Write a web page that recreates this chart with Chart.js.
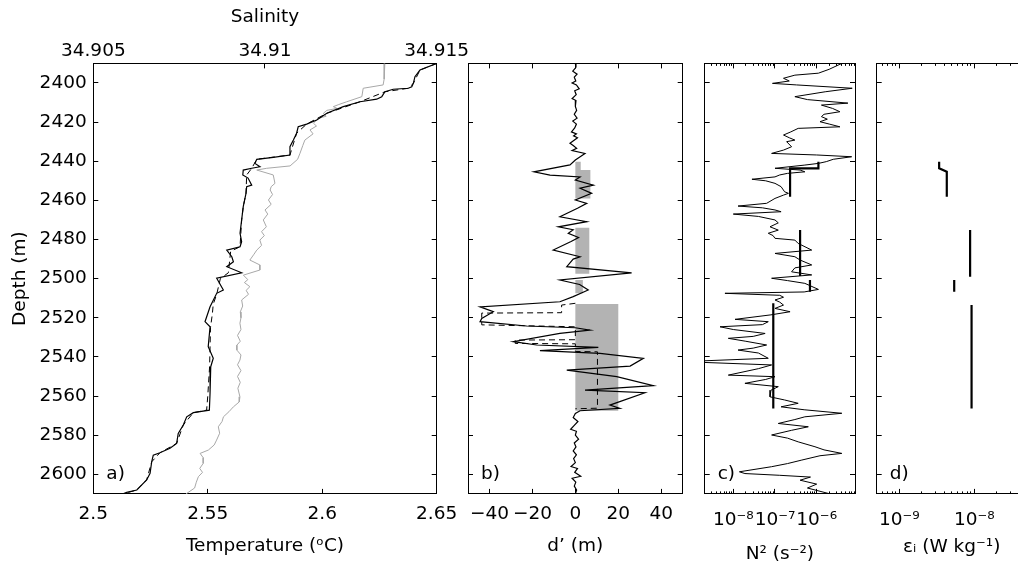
<!DOCTYPE html>
<html lang="en">
<head>
<meta charset="UTF-8">
<title>Profiles</title>
<script src="https://cdn.jsdelivr.net/npm/chart.js"></script>
<style>
  html, body { margin: 0; padding: 0; background: #fff; overflow: hidden; }
  #wrap { position: relative; width: 1018px; height: 567px; overflow: hidden; background: #fff; }
  #wrap canvas { position: absolute; top: 0; }
</style>
</head>
<body>
<div id="wrap">
  <canvas id="panelA" width="480" height="567" style="left:0px"></canvas>
  <canvas id="panelB" width="230" height="567" style="left:460px"></canvas>
  <canvas id="panelC" width="180" height="567" style="left:690px"></canvas>
  <canvas id="panelD" width="170" height="567" style="left:870px"></canvas>
</div>
<script>
// ---- tick values and labels
const depthTicks = [2400, 2420, 2440, 2460, 2480, 2500, 2520, 2540, 2560, 2580, 2600];
const tempTicks = [2.5, 2.55, 2.6, 2.65];
const tempLabels = ['2.5', '2.55', '2.6', '2.65'];
const salTicks = [34.905, 34.91, 34.915];
const salLabels = ['34.905', '34.91', '34.915'];
const dispTicks = [-40, -20, 0, 20, 40];
const dispLabels = ['\u221240', '\u221220', '0', '20', '40'];
const n2Ticks = [1e-8, 1e-7, 1e-6];
const n2Labels = ['10\u207B\u2078', '10\u207B\u2077', '10\u207B\u2076'];
const epsTicks = [1e-9, 1e-8];
const epsLabels = ['10\u207B\u2079', '10\u207B\u2078'];

// ---- a) temperature (solid), sorted temperature (dashed), salinity (grey)
const tempDepth = [2390, 2393.4, 2396.8, 2400.2, 2401.9, 2402.7, 2403.2, 2404.5, 2407.0, 2408.3,
  2409.6, 2412.1, 2415.5, 2418.9, 2421.0, 2422.4, 2425.7, 2429.2, 2432.6, 2436.8,
  2438.0, 2439.0, 2441.1, 2442.8, 2443.6, 2444.5, 2447.0, 2448.6, 2452.2, 2453.0,
  2456.4, 2463.2, 2470.0, 2476.8, 2481.1, 2483.7, 2485.4, 2488.8, 2491.4, 2493.9,
  2497.0, 2499.8, 2505.8, 2507.5, 2514.4, 2522.0, 2524.6, 2534.8, 2540.7, 2545.0,
  2558.6, 2567.2, 2568.5, 2570.6, 2574.8, 2579.1, 2584.2, 2586.7, 2589.0, 2590.2,
  2593.6, 2599.5, 2602.9, 2608.0, 2609.2, 2610];
const tempValues = [2.6500, 2.6427, 2.6405, 2.6398, 2.6391, 2.6376, 2.6310, 2.6274, 2.6260, 2.6238,
  2.6165, 2.6092, 2.6020, 2.5976, 2.5932, 2.5895, 2.5888, 2.5874, 2.5859, 2.5859,
  2.5786, 2.5714, 2.5706, 2.5728, 2.5692, 2.5655, 2.5653, 2.5676, 2.5692, 2.5670,
  2.5667, 2.5655, 2.5648, 2.5641, 2.5648, 2.5641, 2.5583, 2.5605, 2.5612, 2.5583,
  2.5648, 2.5539, 2.5568, 2.5539, 2.5510, 2.5488, 2.5510, 2.5502, 2.5524, 2.5513,
  2.5510, 2.5507, 2.5437, 2.5408, 2.5393, 2.5371, 2.5364, 2.5335, 2.5291, 2.5262,
  2.5255, 2.5248, 2.5233, 2.5190, 2.5146, 2.5130];

const sortDepth = [2390, 2393.4, 2400.2, 2402.7, 2404.5, 2409.6, 2415.5, 2421, 2425.7, 2436.8,
  2439, 2443.6, 2447, 2456.4, 2463.2, 2470, 2483.7, 2486, 2497, 2500,
  2508, 2513, 2518, 2525, 2545, 2560, 2567.2, 2568.5, 2574.8, 2584.2,
  2589, 2593.6, 2602.9, 2608, 2610];
const sortValues = [2.6500, 2.6427, 2.6398, 2.6376, 2.6274, 2.6165, 2.6020, 2.5932, 2.5888, 2.5859,
  2.5714, 2.5692, 2.5670, 2.5667, 2.5655, 2.5648, 2.5641, 2.5600, 2.5590, 2.5555,
  2.5539, 2.5524, 2.5520, 2.5512, 2.5508, 2.5500, 2.5495, 2.5437, 2.5393, 2.5364,
  2.5291, 2.5255, 2.5233, 2.5190, 2.5130];

const salDepth = [2390, 2398, 2401, 2402.7, 2407, 2409.6, 2411, 2412.1, 2413, 2414,
  2415.5, 2417, 2418.1, 2420.6, 2422, 2424, 2426, 2429.2, 2432, 2435.9,
  2439, 2442.4, 2443.6, 2444.5, 2447, 2451.3, 2453, 2454.7, 2457, 2459.8,
  2462, 2464.9, 2467, 2470, 2473.5, 2476, 2478, 2480.3, 2483, 2485.4,
  2487.5, 2490.5, 2493, 2495.6, 2498.2, 2500.5, 2502, 2504.1, 2506, 2508,
  2510.9, 2514, 2517, 2520, 2522.8, 2526, 2529, 2532, 2534, 2536.5,
  2539, 2541.6, 2544, 2547, 2550, 2553, 2556, 2560.4, 2563, 2565.5,
  2568, 2570.6, 2573, 2575.7, 2579, 2582.5, 2585, 2587.6, 2589.3, 2591.5,
  2594.4, 2597, 2599, 2601.2, 2604, 2607, 2610];
const salValues = [34.91349, 34.91347, 34.91344, 34.91286, 34.91282, 34.91238, 34.91215, 34.91199, 34.91210, 34.91180,
  34.91170, 34.91178, 34.91155, 34.91141, 34.91150, 34.91131, 34.91140, 34.91116, 34.91110, 34.91102,
  34.91095, 34.91073, 34.91005, 34.90976, 34.91024, 34.91029, 34.91018, 34.91015, 34.91022, 34.91010,
  34.91018, 34.91000, 34.91008, 34.90995, 34.91004, 34.90990, 34.90998, 34.90985, 34.90990, 34.90976,
  34.90968, 34.90956, 34.90985, 34.90985, 34.90937, 34.90950, 34.90940, 34.90956, 34.90945, 34.90952,
  34.90932, 34.90935, 34.90928, 34.90930, 34.90927, 34.90930, 34.90920, 34.90928, 34.90918, 34.90918,
  34.90930, 34.90927, 34.90920, 34.90930, 34.90920, 34.90928, 34.90921, 34.90927, 34.90925, 34.90908,
  34.90895, 34.90879, 34.90875, 34.90864, 34.90868, 34.90859, 34.90852, 34.90835, 34.90811, 34.90820,
  34.90820, 34.90810, 34.90818, 34.90806, 34.90800, 34.90795, 34.90770];

// ---- b) Thorpe displacement
const dispDepth = [2390, 2392, 2394, 2395.5, 2397, 2399, 2400, 2401, 2403, 2404,
  2406, 2408, 2409, 2412, 2414, 2416, 2418, 2419.5, 2421, 2423,
  2425, 2426, 2427, 2428, 2430.8, 2432, 2433.4, 2434.5, 2436, 2439.4,
  2441.9, 2445.4, 2447.1, 2448, 2449.6, 2452.2, 2453.8, 2456.4, 2459.8, 2461.5,
  2464, 2468.4, 2470.9, 2473.5, 2475, 2476.8, 2479, 2481, 2485.4, 2488.8,
  2490, 2493.9, 2497, 2500.7, 2503, 2505.8, 2509.2, 2511.8, 2514.4, 2516.9,
  2520.3, 2522, 2524.2, 2525.1, 2526.3, 2528, 2532.2, 2533.9, 2535.1, 2536.8,
  2538.2, 2540.7, 2544.7, 2546.7, 2550.1, 2554.7, 2557, 2558.3, 2564.6, 2566.3,
  2567.5, 2568.9, 2571, 2573, 2575, 2577, 2578, 2580, 2582, 2584,
  2586, 2588, 2590, 2592, 2594, 2596, 2597, 2599, 2601, 2602,
  2604, 2606, 2608, 2610];
const dispValues = [0, 0.3, -1.2, 0.8, -0.5, 0.2, -1.5, 0.5, 1.8, -0.3,
  0.4, -1.5, 0.3, 0, 0.6, -0.5, 0.8, -1.2, 0.5, -0.3,
  -1.8, 0.5, -0.8, 1.0, -2.5, -1.0, 0.6, -1.5, 4.5, 0,
  -2.5, -19.3, -11.8, 2.2, 0, 8.4, 2.2, 7.6, 0, 5.3,
  1, -7.2, 5.3, -7.9, -1, -3.3, 1.5, -2, -10.3, 2.2,
  -1, -4, 26.2, -7.2, 2, 6, -1, -7.2, -44.4, -38.2,
  -43.6, -44.4, -22.7, 0, 6.8, -7.2, -28.9, -18, 10.7, -16.5,
  11.5, 31.7, 25.5, -4, 19.3, 36.3, 4.5, 32.4, 16.1, 20.7,
  2.2, 0, -1, 1.2, -0.5, -2.2, 0.5, 0, 1.5, -0.5,
  0.3, -1, 0.5, -0.8, 0, -2, 1, -0.3, 2.5, -1.5,
  0.2, -0.5, 0.6, 0];

const dispSortDepth = [2512.6, 2513.5, 2517.4, 2517.6, 2523.6, 2524.6, 2531.2, 2531.4, 2533.1, 2533.3,
  2537.2, 2537.4, 2566.2, 2566.5];
const dispSortValues = [0, -6.4, -6.4, -43.6, -43.6, 0, 0, -28, -28, 0,
  0, 10.3, 10.3, 0];

// overturn patches (grey bars): top, bottom, width
const patchTop = [2440.2, 2444.5, 2474, 2500.7, 2513];
const patchBottom = [2444.5, 2459, 2497.5, 2507.5, 2567.5];
const patchWidth = [2.5, 7, 6.5, 3.5, 20];

// ---- c) N^2
const n2Depth = [2390, 2393, 2395, 2396, 2397.6, 2399, 2400.2, 2401, 2402.7, 2404.5,
  2407, 2408.5, 2410.3, 2411.3, 2413, 2414.7, 2416, 2417.2, 2418.5, 2419.8,
  2421, 2422.4, 2423.2, 2425, 2426.6, 2428, 2429.2, 2430, 2432.6, 2434.3,
  2436, 2436.8, 2437.7, 2439, 2440.2, 2441.1, 2442, 2443.6, 2444.5, 2445.4,
  2446.2, 2447, 2448, 2449.2, 2450, 2451.3, 2453, 2455.6, 2456.4, 2457.3,
  2459, 2461.5, 2462.9, 2463.8, 2464.9, 2465.8, 2467, 2468.2, 2470, 2471.5,
  2473.5, 2475.2, 2476.8, 2478, 2479.4, 2480.3, 2482, 2485.4, 2487.1, 2488.8,
  2490.5, 2493, 2494.5, 2496.5, 2498.1, 2499.8, 2501, 2502.4, 2505.5, 2506.8,
  2507.5, 2508.5, 2509.5, 2510.9, 2512, 2513.5, 2515.2, 2516.9, 2518.5, 2520.8,
  2522, 2523.5, 2524.6, 2526, 2528, 2529.5, 2530.5, 2532, 2533.9, 2535.5,
  2536.5, 2538, 2540.7, 2542, 2542.8, 2544.1, 2546, 2549.3, 2550.1, 2551.5,
  2553.5, 2555.2, 2557, 2560.4, 2562, 2563.7, 2565.5, 2567, 2568.8, 2570.6,
  2572, 2574, 2575.7, 2577.5, 2579.9, 2581.5, 2583.4, 2585.9, 2587.5, 2589.3,
  2590.5, 2592.7, 2594.5, 2596.1, 2598.7, 2599.6, 2600.5, 2601.4, 2603, 2605,
  2607, 2610];
const n2Values = [4.0e-6, 2.0e-6, 1.1e-6, 3.0e-7, 1.6e-7, 2.2e-7, 8.7e-8, 3.3e-7, 7.1e-6, 1.6e-6,
  3.0e-7, 6.0e-7, 5.6e-6, 1.3e-6, 2.4e-6, 3.6e-6, 1.5e-6, 1.3e-6, 1.8e-6, 1.2e-6,
  2.0e-6, 3.6e-6, 3.6e-7, 2.4e-7, 1.6e-7, 2.2e-7, 3.0e-7, 1.9e-7, 2.5e-7, 1.6e-7,
  8.3e-8, 1.0e-6, 6.9e-6, 2.5e-6, 1.7e-6, 1.1e-6, 5.0e-7, 1.0e-7, 4.0e-7, 5.2e-7,
  2.0e-7, 1.3e-7, 1.0e-7, 2.8e-8, 6.0e-8, 1.0e-7, 1.4e-7, 1.7e-7, 2.1e-7, 1.6e-7,
  1.0e-7, 6.3e-8, 1.3e-8, 5.0e-8, 1.0e-7, 1.4e-7, 1.0e-8, 4.0e-8, 1.0e-7, 1.2e-7,
  7.6e-8, 1.2e-7, 6.9e-8, 9.0e-8, 1.0e-7, 3.0e-7, 3.6e-7, 7.6e-7, 1.0e-7, 3.0e-7,
  4.0e-7, 7.6e-7, 3.0e-7, 2.5e-7, 7.6e-7, 8.3e-8, 2.0e-7, 5.2e-7, 1.1e-6, 5.0e-7,
  6.3e-9, 1.3e-7, 1.6e-7, 1.0e-7, 1.3e-7, 1.6e-7, 1.0e-7, 2.3e-7, 8.0e-8, 1.1e-8,
  6.9e-8, 5.0e-8, 4.8e-9, 1.0e-8, 5.8e-8, 3.0e-8, 7.6e-9, 2.0e-8, 6.3e-8, 3.0e-8,
  1.3e-8, 4.0e-8, 6.9e-8, 1.9e-9, 1.9e-9, 8.3e-8, 4.0e-8, 7.6e-9, 1.0e-7, 6.0e-8,
  1.9e-8, 1.2e-7, 8.0e-8, 7.6e-8, 1.7e-7, 3.6e-7, 1.4e-7, 5.0e-7, 4.0e-6, 5.2e-7,
  3.0e-7, 1.2e-7, 6.3e-7, 2.5e-7, 8.3e-8, 2.0e-7, 3.6e-7, 9.1e-7, 1.5e-6, 4.0e-6,
  1.2e-6, 4.4e-7, 2.0e-7, 8.3e-8, 1.4e-8, 1.9e-8, 1.3e-7, 7.1e-7, 4.0e-7, 1.0e-6,
  6.0e-7, 2.1e-6];

// patch-mean N^2 (thick steps), null separates patches
const n2PatchDepth = [2440.2, 2443.6, 2443.6, 2458.1, null, 2475.2, 2498.7, null, 2500.7, 2506.7, null, 2512.6, 2566.3];
const n2PatchValues = [1.1e-6, 1.1e-6, 2.3e-7, 2.3e-7, null, 4.0e-7, 4.0e-7, null, 6.9e-7, 6.9e-7, null, 9.1e-8, 9.1e-8];

// ---- d) dissipation per patch
const epsDepth = [2440.2, 2443.6, 2445.4, 2458.1, null, 2475.2, 2499, null, 2500.7, 2506.7, null, 2513.5, 2566.3];
const epsValues = [3.4e-9, 3.4e-9, 4.3e-9, 4.3e-9, null, 8.8e-9, 8.8e-9, null, 5.4e-9, 5.4e-9, null, 9.2e-9, 9.2e-9];

// ---------------------------------------------------------------
const FONT = "'DejaVu Sans', sans-serif";
const FS = 18.5;
const TOP_H = 63.4;      // height of the top axis band
const BOTTOM_H = 73.1;   // height of the bottom axis band

function fixed(size) {
  return function (scale) {
    if (scale.isHorizontal()) scale.height = size; else scale.width = size;
    scale.paddingLeft = 0; scale.paddingRight = 0;
    scale.paddingTop = 0; scale.paddingBottom = 0;
  };
}

function minorLog(lo, hi) {
  const out = [];
  for (let e = -10; e <= -4; e++) {
    for (let m = 2; m <= 9; m++) {
      const v = m * Math.pow(10, e);
      if (v > lo && v < hi) out.push(v);
    }
  }
  return out;
}

function axis(o) {
  return {
    type: o.type || 'linear',
    position: o.position,
    min: o.min, max: o.max,
    reverse: !!o.reverse,
    weight: o.weight || 0,
    afterBuildTicks: (scale) => { scale.ticks = o.ticks.map(v => ({ value: v })); },
    afterFit: fixed(o.size),
    grid: { drawOnChartArea: false, drawTicks: true, tickLength: -(o.tick || 5), color: '#000', lineWidth: 1 },
    border: { display: o.border !== false, color: '#000', width: 1 },
    ticks: {
      display: !!o.labels,
      autoSkip: false, maxRotation: 0, minRotation: 0,
      padding: o.pad || 0,
      color: '#000',
      font: { family: FONT, size: FS },
      callback: (v, i) => (o.labels ? o.labels[i] : '')
    },
    title: o.title ? {
      display: true, text: o.title, color: '#000',
      font: { family: FONT, size: FS },
      padding: o.titlePad
    } : { display: false }
  };
}

function depthAxes(leftSize, rightSize, withLabels) {
  return {
    y: axis({ position: 'left', min: 2390, max: 2610, reverse: true, ticks: depthTicks,
      labels: withLabels ? depthTicks.map(String) : null, pad: 11.6, size: leftSize,
      title: withLabels ? 'Depth (m)' : null, titlePad: { top: 9, bottom: 0 } }),
    yr: axis({ position: 'right', min: 2390, max: 2610, reverse: true, ticks: depthTicks, size: rightSize })
  };
}

function series(depths, values, opts) {
  return Object.assign({
    data: depths.map((d, i) => (d === null ? { x: null, y: null } : { x: values[i], y: d })),
    showLine: true, borderColor: '#000', borderWidth: 1, pointRadius: 0,
    fill: false, tension: 0, xAxisID: 'x', yAxisID: 'y'
  }, opts || {});
}

const panelLabel = {
  id: 'panelLabel',
  afterDraw(chart, args, opts) {
    const { ctx, chartArea } = chart;
    ctx.save();
    ctx.font = FS + 'px ' + FONT;
    ctx.fillStyle = '#000';
    ctx.textBaseline = 'middle';
    ctx.textAlign = 'left';
    ctx.fillText(opts.text, chartArea.left + 13, chart.scales.y.getPixelForValue(2600));
    ctx.restore();
  }
};

function makeChart(id, datasets, scales, label) {
  return new Chart(document.getElementById(id), {
    type: 'scatter',
    data: { datasets },
    options: {
      responsive: false, animation: false, devicePixelRatio: 1,
      layout: { padding: 0 },
      plugins: { legend: { display: false }, tooltip: { enabled: false }, panelLabel: { text: label } },
      elements: { point: { radius: 0 } },
      scales
    },
    plugins: [panelLabel]
  });
}

// ---- panel a
makeChart('panelA', [
  series(tempDepth, tempValues, { borderWidth: 1.2 }),
  series(sortDepth, sortValues, { borderDash: [6, 4], borderWidth: 1 }),
  series(salDepth, salValues, { borderColor: '#a8a8a8', xAxisID: 'xs' })
], Object.assign({
  x: axis({ position: 'bottom', min: 2.5, max: 2.65, ticks: tempTicks, labels: tempLabels, pad: 14.5,
    size: BOTTOM_H, title: 'Temperature (\u1D52C)', titlePad: { top: 0, bottom: 10 } }),
  xs: axis({ position: 'top', min: 34.905, max: 34.915, ticks: salTicks, labels: salLabels, pad: 6.5,
    size: TOP_H, title: 'Salinity', titlePad: { top: 6, bottom: 0 } })
}, depthAxes(93.3, 43.3, true)), 'a)');

// ---- panel b
const patchSets = patchTop.map((t, i) => ({
  data: [{ x: 0, y: t }, { x: patchWidth[i], y: t }, { x: patchWidth[i], y: patchBottom[i] }, { x: 0, y: patchBottom[i] }],
  showLine: true, borderWidth: 0, borderColor: 'rgba(0,0,0,0)', backgroundColor: '#b3b3b3',
  fill: 'shape', pointRadius: 0, xAxisID: 'x', yAxisID: 'y'
}));
makeChart('panelB', [
  series(dispDepth, dispValues, { borderWidth: 1.2 }),
  series(dispSortDepth, dispSortValues, { borderDash: [6, 4], borderWidth: 1 })
].concat(patchSets), Object.assign({
  x: axis({ position: 'bottom', min: -50, max: 50, ticks: dispTicks, labels: dispLabels, pad: 14.5,
    size: BOTTOM_H, title: 'd\u2019 (m)', titlePad: { top: 0, bottom: 10 } }),
  xt: axis({ position: 'top', min: -50, max: 50, ticks: dispTicks, size: TOP_H })
}, depthAxes(8, 7.3, false)), 'b)');

// ---- panel c
const n2Min = 2.06e-9, n2Max = 8.3e-6;
makeChart('panelC', [
  series(n2PatchDepth, n2PatchValues, { borderWidth: 2.2 }),
  series(n2Depth, n2Values, { borderWidth: 1 })
], Object.assign({
  x: axis({ type: 'logarithmic', position: 'bottom', min: n2Min, max: n2Max, ticks: n2Ticks, labels: n2Labels,
    pad: 20.5, size: BOTTOM_H, weight: 1, title: 'N\u00B2 (s\u207B\u00B2)', titlePad: { top: 0, bottom: 2 } }),
  xm: axis({ type: 'logarithmic', position: 'bottom', min: n2Min, max: n2Max, ticks: minorLog(n2Min, n2Max),
    size: 0, tick: 2.5, border: false }),
  xt: axis({ type: 'logarithmic', position: 'top', min: n2Min, max: n2Max, ticks: n2Ticks, size: TOP_H, weight: 1 }),
  xtm: axis({ type: 'logarithmic', position: 'top', min: n2Min, max: n2Max, ticks: minorLog(n2Min, n2Max),
    size: 0, tick: 2.5, border: false })
}, depthAxes(14.7, 15, false)), 'c)');

// ---- panel d
const epsMin = 5e-10, epsMax = 5e-8;
makeChart('panelD', [
  series(epsDepth, epsValues, { borderWidth: 2.2 })
], Object.assign({
  x: axis({ type: 'logarithmic', position: 'bottom', min: epsMin, max: epsMax, ticks: epsTicks, labels: epsLabels,
    pad: 20.5, size: BOTTOM_H, weight: 1, title: '\u03B5\u1D62 (W kg\u207B\u00B9)', titlePad: { top: 0, bottom: 9 } }),
  xm: axis({ type: 'logarithmic', position: 'bottom', min: epsMin, max: epsMax, ticks: minorLog(epsMin, epsMax),
    size: 0, tick: 2.5, border: false }),
  xt: axis({ type: 'logarithmic', position: 'top', min: epsMin, max: epsMax, ticks: epsTicks, size: TOP_H, weight: 1 }),
  xtm: axis({ type: 'logarithmic', position: 'top', min: epsMin, max: epsMax, ticks: minorLog(epsMin, epsMax),
    size: 0, tick: 2.5, border: false })
}, depthAxes(6.7, 13.3, false)), 'd)');
</script>
</body>
</html>
